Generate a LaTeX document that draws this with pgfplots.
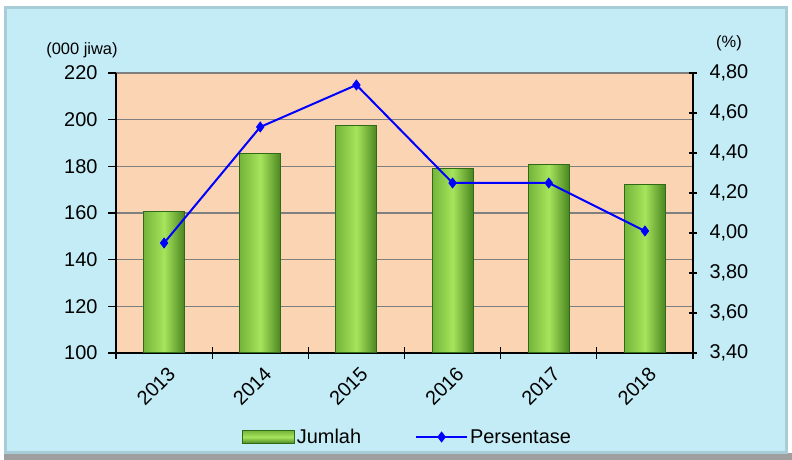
\documentclass[border=0pt]{standalone}
\usepackage{pgfplots}
\pgfplotsset{compat=1.18}
\usepackage{fontspec}
\setmainfont{Liberation Sans}
\definecolor{bgblue}{HTML}{C4ECF6}
\definecolor{framec}{HTML}{A8CDD6}
\definecolor{plotbg}{HTML}{FBD4B4}
\definecolor{gridc}{HTML}{7F7F7F}
\definecolor{bardark}{HTML}{2F6A17}
\definecolor{barmid}{HTML}{A6E45C}
\definecolor{barleft}{HTML}{74B43A}
\definecolor{barright}{HTML}{4A8620}
\pgfplotsset{
  mylineleg/.style={legend image code/.code={\draw[mark repeat=2, mark phase=2, ##1] plot coordinates {(0bp,0bp) (25.5bp,0bp) (51bp,0bp)};}},
  mybarleg/.style={legend image code/.code={\draw[draw=bardark, line width=1bp, top color=barleft, bottom color=barright, middle color=barmid] (0bp,-6.5bp) rectangle (52bp,6.5bp);}},
  mybar/.style={ybar, bar width=41bp, bar shift=0pt, draw=bardark, line width=1bp,
    left color=barleft, right color=barright, middle color=barmid},
}
\begin{document}
\begin{tikzpicture}[x=1bp,y=1bp]
\useasboundingbox (0,0) rectangle (792,460);
\fill[white] (0,0) rectangle (792,460);
\fill[gray!75] (4,0) rectangle (792,7);
\fill[bgblue, draw=framec, line width=3bp] (5,7) rectangle (786,452);
\pgfplotsset{
  every axis/.append style={
    scale only axis, width=577bp, height=280bp,
    at={(116bp,107bp)}, anchor=south west,
    xmin=-0.5, xmax=5.5,
    font=\fontsize{20}{23}\selectfont,
    tick label style={font=\fontsize{20}{23}\selectfont},
    /pgf/number format/assume math mode=true,
    axis line style={black, line width=1.2bp},
    tick style={black, line width=1.2bp},
    major tick length=8bp,
  }
}
\begin{axis}[
  ymin=100, ymax=220, ytick={100,120,140,160,180,200,220},
  axis x line*=bottom, axis y line*=left,
  axis background/.style={fill=plotbg},
  ymajorgrids, grid style={gridc, line width=1.5bp},
  xtick={0,1,2,3,4,5}, xticklabels={2013,2014,2015,2016,2017,2018},
  major x tick style={draw=none},
  minor xtick={-0.5,0.5,1.5,2.5,3.5,4.5,5.5},
  minor tick length=12bp,
  xtick align=center,
  ytick align=outside,
  xticklabel style={rotate=45, anchor=east, inner sep=1bp, yshift=-15bp, xshift=-3bp},
  yticklabel style={xshift=-7bp},
]
\addplot[mybar] coordinates {(0,160.6)};
\addplot[mybar] coordinates {(1,185.6)};
\addplot[mybar] coordinates {(2,197.4)};
\addplot[mybar] coordinates {(3,179.1)};
\addplot[mybar] coordinates {(4,180.9)};
\addplot[mybar] coordinates {(5,172.4)};
\end{axis}
\begin{axis}[
  ymin=3.4, ymax=4.8, ytick={3.4,3.6,3.8,4.0,4.2,4.4,4.6,4.8},
  axis y line*=right, axis x line=none,
  ytick align=center,
  yticklabel style={xshift=9bp, /pgf/number format/.cd, fixed, fixed zerofill, precision=2, use comma},
  legend columns=2,
  legend style={draw=none, fill=none, at={(0.505,-0.30)}, anchor=center,
    font=\fontsize{20}{23}\selectfont,
    /tikz/every even column/.append style={column sep=52bp}},
]
\addlegendimage{mybarleg}
\addplot[blue, line width=2bp, mark=diamond*, mark size=4bp, mylineleg]
  coordinates {(0,3.95) (1,4.53) (2,4.74) (3,4.25) (4,4.25) (5,4.01)};
\legend{Jumlah, Persentase}
\end{axis}
\node at (82,410) {\fontsize{16.5}{19}\selectfont (000 jiwa)};
\node at (729,417) {\fontsize{16.5}{19}\selectfont (\%)};
\end{tikzpicture}
\end{document}
